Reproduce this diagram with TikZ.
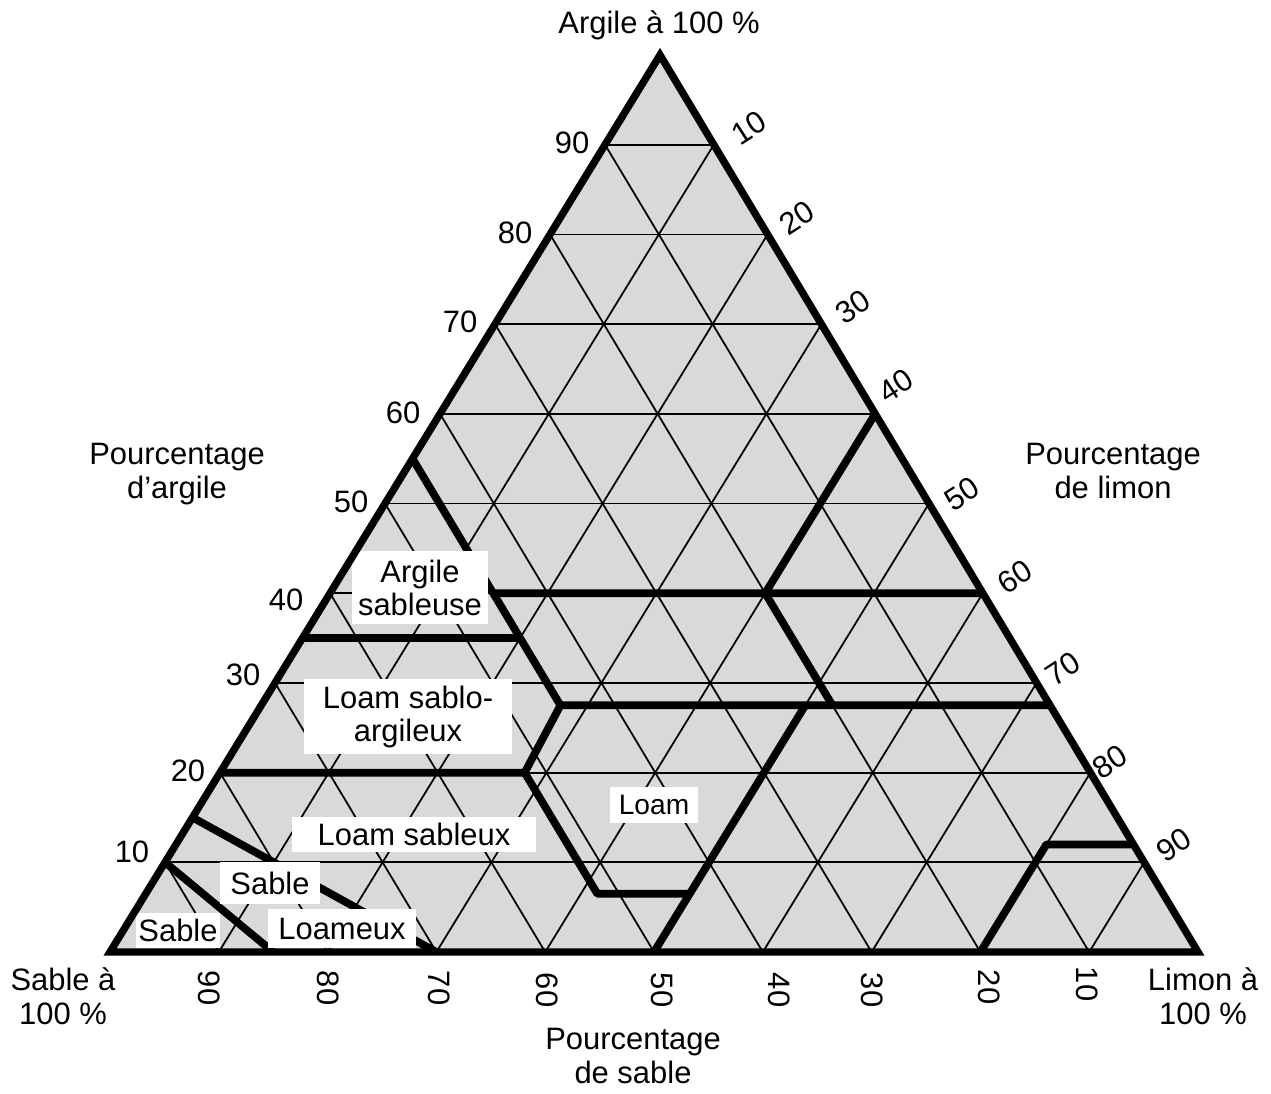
\documentclass[tikz,border=0pt]{standalone}
\usepackage{fontspec}
\setmainfont{Liberation Sans}
\definecolor{trifill}{RGB}{217,217,217}
\begin{document}
\begin{tikzpicture}[x=0.01cm,y=-0.01cm,
  gridline/.style={line width=0.5pt},
  classline/.style={line width=2.2pt,line join=round},
  edgeline/.style={line width=2.1pt,line join=miter},
  lbl/.style={font=\fontsize{8.8}{9.4}\selectfont,align=center,inner sep=0pt},
  tick/.style={font=\fontsize{8.8}{9.4}\selectfont,inner sep=0pt},
  box/.style={fill=white,inner sep=0pt,align=center,font=\fontsize{8.8}{9.4}\selectfont}]
\useasboundingbox (0,0) rectangle (1271,1093);
% vertices: S = sable, L = limon, A = argile
\coordinate (S) at (110,952);
\coordinate (L) at (1198,952);
\coordinate (A) at (660,55);
\fill[trifill] (S) -- (L) -- (A) -- cycle;
% grid
\foreach \p in {1,...,9}{
  \pgfmathsetmacro{\pp}{\p/10}
  \pgfmathsetmacro{\qq}{1-\p/10}
  \draw[gridline] (barycentric cs:S=\qq,A=\pp) -- (barycentric cs:L=\qq,A=\pp);
  \draw[gridline] (barycentric cs:S=\pp,L=\qq) -- (barycentric cs:S=\pp,A=\qq);
  \draw[gridline] (barycentric cs:L=\pp,S=\qq) -- (barycentric cs:L=\pp,A=\qq);
}
% class boundary points
\coordinate (c1) at (barycentric cs:S=0.45,A=0.55);
\coordinate (c2) at (barycentric cs:S=0.45,L=0.275,A=0.275);
\coordinate (c3) at (barycentric cs:S=0.45,L=0.15,A=0.40);
\coordinate (c4) at (barycentric cs:L=0.60,A=0.40);
\coordinate (c5) at (barycentric cs:S=0.20,L=0.40,A=0.40);
\coordinate (c6) at (barycentric cs:L=0.40,A=0.60);
\coordinate (c7) at (barycentric cs:S=0.20,L=0.525,A=0.275);
\coordinate (c8) at (barycentric cs:L=0.725,A=0.275);
\coordinate (c9) at (barycentric cs:S=0.65,A=0.35);
\coordinate (c10) at (barycentric cs:S=0.45,L=0.20,A=0.35);
\coordinate (c11) at (barycentric cs:S=0.80,A=0.20);
\coordinate (c12) at (barycentric cs:S=0.52,L=0.28,A=0.20);
\coordinate (c13) at (barycentric cs:S=0.52,L=0.415,A=0.065);
\coordinate (c14) at (barycentric cs:S=0.435,L=0.50,A=0.065);
\coordinate (c15) at (barycentric cs:S=0.50,L=0.50);
\coordinate (c16) at (barycentric cs:S=0.225,L=0.50,A=0.275);
\coordinate (c17) at (barycentric cs:S=0.85,A=0.15);
\coordinate (c18) at (barycentric cs:S=0.70,L=0.30);
\coordinate (c19) at (barycentric cs:S=0.90,A=0.10);
\coordinate (c20) at (barycentric cs:S=0.85,L=0.15);
\coordinate (c21) at (barycentric cs:S=0.20,L=0.80);
\coordinate (c22) at (barycentric cs:S=0.08,L=0.80,A=0.12);
\coordinate (c23) at (barycentric cs:L=0.88,A=0.12);
% class boundaries
\draw[classline] (c1) -- (c2);
\draw[classline] (c3) -- (c4);
\draw[classline] (c5) -- (c6);
\draw[classline] (c5) -- (c7);
\draw[classline] (c2) -- (c8);
\draw[classline] (c9) -- (c10);
\draw[classline] (c11) -- (c12) -- (c2);
\draw[classline] (c12) -- (c13) -- (c14);
\draw[classline] (c15) -- (c16);
\draw[classline] (c17) -- (c18);
\draw[classline] (c19) -- (c20);
\draw[classline] (c21) -- (c22) -- (c23);
% class labels
\node[box,minimum width=1.36cm,minimum height=0.73cm] (argsab) at (420,587.5) {Argile\\sableuse};
\node[box,minimum width=2.08cm,minimum height=0.75cm] (lsa) at (408,716.5) {Loam sablo-\\argileux};
\node[box,minimum width=2.44cm,minimum height=0.35cm] (ls) at (414,834) {Loam sableux};
\node[box,font=\fontsize{8}{9}\selectfont,minimum width=0.88cm,minimum height=0.36cm] (loam) at (654,805) {Loam};
\node[box,minimum width=1.00cm,minimum height=0.42cm] (sl1) at (270,883) {Sable};
\node[box,minimum width=1.48cm,minimum height=0.39cm] (sl2) at (342,928.5) {Loameux};
\node[box,minimum width=0.84cm,minimum height=0.35cm] (sab) at (178,930.5) {Sable};
% outline
\draw[edgeline] (S) -- (L) -- (A) -- cycle;
% vertex and axis titles (base = last line)
\node[lbl,anchor=base] (tA) at (659,33) {Argile à 100 \%};
\node[lbl,anchor=base] (tS) at (63,1024) {Sable à\\100 \%};
\node[lbl,anchor=base] (tL) at (1203,1024) {Limon à\\100 \%};
\node[lbl,anchor=base] (pA) at (177,498) {Pourcentage\\d’argile};
\node[lbl,anchor=base] (pL) at (1113,498) {Pourcentage\\de limon};
\node[lbl,anchor=base] (pS) at (633,1083) {Pourcentage\\de sable};
% clay ticks (left)
\node[tick] (a90) at (572,143) {90};
\node[tick] (a80) at (515,233) {80};
\node[tick] (a70) at (460,322) {70};
\node[tick] (a60) at (403,413) {60};
\node[tick] (a50) at (351,502) {50};
\node[tick] (a40) at (286,600) {40};
\node[tick] (a30) at (243,675) {30};
\node[tick] (a20) at (188,771) {20};
\node[tick] (a10) at (132,852) {10};
% silt ticks (right)
\node[tick,rotate=33] (l10) at (749,128) {10};
\node[tick,rotate=33] (l20) at (797,218) {20};
\node[tick,rotate=33] (l30) at (853,307) {30};
\node[tick,rotate=33] (l40) at (896,386) {40};
\node[tick,rotate=33] (l50) at (962,494) {50};
\node[tick,rotate=33] (l60) at (1015,577) {60};
\node[tick,rotate=33] (l70) at (1063,669) {70};
\node[tick,rotate=33] (l80) at (1110,762) {80};
\node[tick,rotate=33] (l90) at (1174,845) {90};
% sand ticks (bottom)
\node[tick,rotate=-90] (s90) at (209,988) {90};
\node[tick,rotate=-90] (s80) at (328,988) {80};
\node[tick,rotate=-90] (s70) at (439,988) {70};
\node[tick,rotate=-90] (s60) at (547,990) {60};
\node[tick,rotate=-90] (s50) at (662,990) {50};
\node[tick,rotate=-90] (s40) at (779,990) {40};
\node[tick,rotate=-90] (s30) at (872,990) {30};
\node[tick,rotate=-90] (s20) at (989,987) {20};
\node[tick,rotate=-90] (s10) at (1087,984) {10};
\end{tikzpicture}
\end{document}
